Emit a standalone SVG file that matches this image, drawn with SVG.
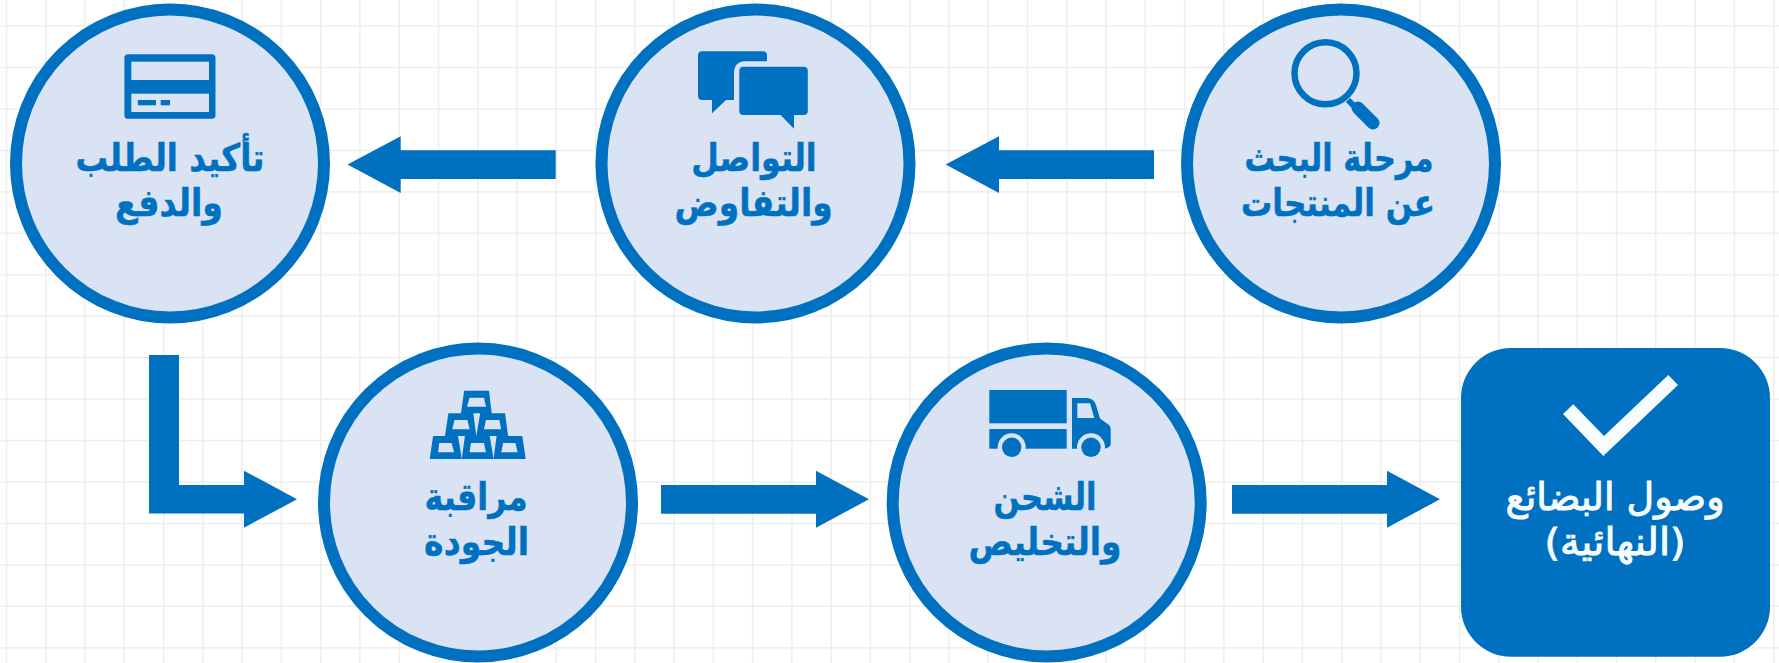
<svg xmlns="http://www.w3.org/2000/svg" width="1779" height="663" viewBox="0 0 1779 663">
<style>
.g{fill:none;stroke:#eeeeee;stroke-width:1.5}
.c{fill:#DAE3F3;stroke:#0070C0;stroke-width:12}
.b{fill:#0070C0}
.l{fill:#DAE3F3}
.a{fill:#0070C0}
text{font-family:"DejaVu Sans",sans-serif;font-weight:700;font-size:38px;text-anchor:middle;direction:rtl;fill:#0070C0;stroke:#0070C0;stroke-width:.5}
.w{fill:#F7FCFF;stroke:#F7FCFF;stroke-width:1;font-weight:400}
</style>
<rect width="1779" height="663" fill="#ffffff"/>
<path id="grid" class="g" d="M6.5 0V663M45.8 0V663M85 0V663M124.3 0V663M163.6 0V663M202.9 0V663M242.1 0V663M281.4 0V663M320.7 0V663M359.9 0V663M399.2 0V663M438.5 0V663M477.7 0V663M517 0V663M556.3 0V663M595.6 0V663M634.8 0V663M674.1 0V663M713.4 0V663M752.6 0V663M791.9 0V663M831.2 0V663M870.4 0V663M909.7 0V663M949 0V663M988.3 0V663M1027.5 0V663M1066.8 0V663M1106.1 0V663M1145.3 0V663M1184.6 0V663M1223.9 0V663M1263.1 0V663M1302.4 0V663M1341.7 0V663M1381 0V663M1420.2 0V663M1459.5 0V663M1498.8 0V663M1538 0V663M1577.3 0V663M1616.6 0V663M1655.8 0V663M1695.1 0V663M1734.4 0V663M1773.7 0V663M0 26H1779M0 67.5H1779M0 108.9H1779M0 150.4H1779M0 191.8H1779M0 233.3H1779M0 274.7H1779M0 316.2H1779M0 357.6H1779M0 399.1H1779M0 440.5H1779M0 482H1779M0 523.4H1779M0 564.9H1779M0 606.3H1779M0 647.8H1779"/>
<g id="connectors">
<path class="a" d="M347.5 164.5L400.7 136.3V150.3H555.7V179H400.7V193Z"/>
<path class="a" d="M945.6 164.5L999 136.3V150.3H1154V179H999V193Z"/>
<path class="a" d="M149 355H179V485H244V470.7L297 499.3L244 527.7V513.5H149Z"/>
<path class="a" d="M661 485H816V470.7L869 499.3L816 527.7V513.7H661Z"/>
<path class="a" d="M1232 485H1387V470.7L1440 499.3L1387 527.7V513.7H1232Z"/>
</g>
<g id="node-payment">
<circle class="c" cx="170" cy="163.5" r="154"/>
<rect class="b" x="124.4" y="54.3" width="91.1" height="64.4" rx="3.5"/>
<rect class="l" x="131.3" y="61.7" width="77.7" height="18.3"/>
<rect class="l" x="131.3" y="93.7" width="77.7" height="18.3"/>
<rect class="b" x="137.8" y="100" width="18.2" height="5.3"/>
<rect class="b" x="160.7" y="100" width="9.3" height="5.3"/>
<text x="170" y="170.7" textLength="189" lengthAdjust="spacingAndGlyphs">تأكيد الطلب</text>
<text x="169" y="215.7" textLength="108" lengthAdjust="spacingAndGlyphs">والدفع</text>
</g>
<g id="node-negotiation">
<circle class="c" cx="755.5" cy="163.5" r="154"/>
<path class="b" d="M702 51.3H763a4 4 0 0 1 4 4V61.3H744a10 10 0 0 0-10 10V100H726L712 113.3V100H702a4 4 0 0 1-4-4V55.3a4 4 0 0 1 4-4Z"/>
<path class="b" d="M743.3 66.7H803.8a4 4 0 0 1 4 4V111a4 4 0 0 1-4 4H794V128.7L780.6 115H743.3a4 4 0 0 1-4-4V70.7a4 4 0 0 1 4-4Z"/>
<text x="754" y="170.7" textLength="125.5" lengthAdjust="spacingAndGlyphs">التواصل</text>
<text x="753.6" y="215.7" textLength="158" lengthAdjust="spacingAndGlyphs">والتفاوض</text>
</g>
<g id="node-search">
<circle class="c" cx="1341" cy="163.5" r="154"/>
<circle cx="1325.5" cy="73.3" r="31" fill="none" stroke="#0070C0" stroke-width="6.5"/>
<path d="M1348 100L1358 110" fill="none" stroke="#0070C0" stroke-width="6"/>
<path d="M1358 108L1373 123" fill="none" stroke="#0070C0" stroke-width="13" stroke-linecap="round"/>
<text x="1339" y="170.7" textLength="189" lengthAdjust="spacingAndGlyphs">مرحلة البحث</text>
<text x="1338" y="215.7" textLength="194" lengthAdjust="spacingAndGlyphs">عن المنتجات</text>
</g>
<g id="node-quality">
<circle class="c" cx="478" cy="502.5" r="154"/>
<path class="b" fill-rule="evenodd" d="M464.1 390.7H489L491.7 413.3H505L508.1 436H522.3L525.7 459H429.7L433.1 436H445L448.4 413.3H461ZM469.5 397.7L467 406.7H486L484 397.7ZM454.5 420L452.2 429.3H469.5L467.5 420ZM485.9 420L484 429.3H501.2L499.3 420ZM439.2 443L438.1 452.3H454.1L451.5 443ZM471 443L469.5 452.3H485.9L484 443ZM503.1 443L501.2 452.3H517.7L515.4 443ZM473.3 413.3L476.3 436L480.2 413.3ZM458 436L461.8 459L464.9 436ZM489.7 436L493.6 459L496.6 436Z"/>
<text x="476" y="510" textLength="103" lengthAdjust="spacingAndGlyphs">مراقبة</text>
<text x="476.6" y="555" textLength="105" lengthAdjust="spacingAndGlyphs">الجودة</text>
</g>
<g id="node-shipping">
<circle class="c" cx="1046.7" cy="502.5" r="154"/>
<rect class="b" x="989.3" y="390" width="77.4" height="33.3"/>
<rect class="b" x="989.3" y="429" width="77.4" height="19.7"/>
<path class="b" d="M1072 398H1086Q1094 398 1096 405L1100 418.5L1109 425Q1110.7 426.5 1110.7 429V444Q1110.7 447 1105 448.7H1072Z"/>
<path class="l" d="M1077.3 403.3H1090L1094.3 418H1077.3Z"/>
<circle class="l" cx="1011.7" cy="447.3" r="14"/>
<circle class="l" cx="1091" cy="447.3" r="14"/>
<circle class="b" cx="1011.7" cy="447.3" r="9.7"/>
<circle class="b" cx="1091" cy="447.3" r="9.7"/>
<text x="1045" y="510" textLength="103" lengthAdjust="spacingAndGlyphs">الشحن</text>
<text x="1045" y="555" textLength="153" lengthAdjust="spacingAndGlyphs">والتخليص</text>
</g>
<g id="node-arrival">
<rect class="b" x="1461" y="348" width="309" height="308.7" rx="50"/>
<path fill="#F7FCFF" d="M1563 414L1573.3 404.3L1604 436L1668.3 375L1678 385L1603.3 456Z"/>
<text class="w" x="1615" y="510" textLength="219" lengthAdjust="spacingAndGlyphs">وصول البضائع</text>
<text class="w" x="1615" y="555" textLength="141" lengthAdjust="spacingAndGlyphs">(النهائية)</text>
</g>
</svg>
